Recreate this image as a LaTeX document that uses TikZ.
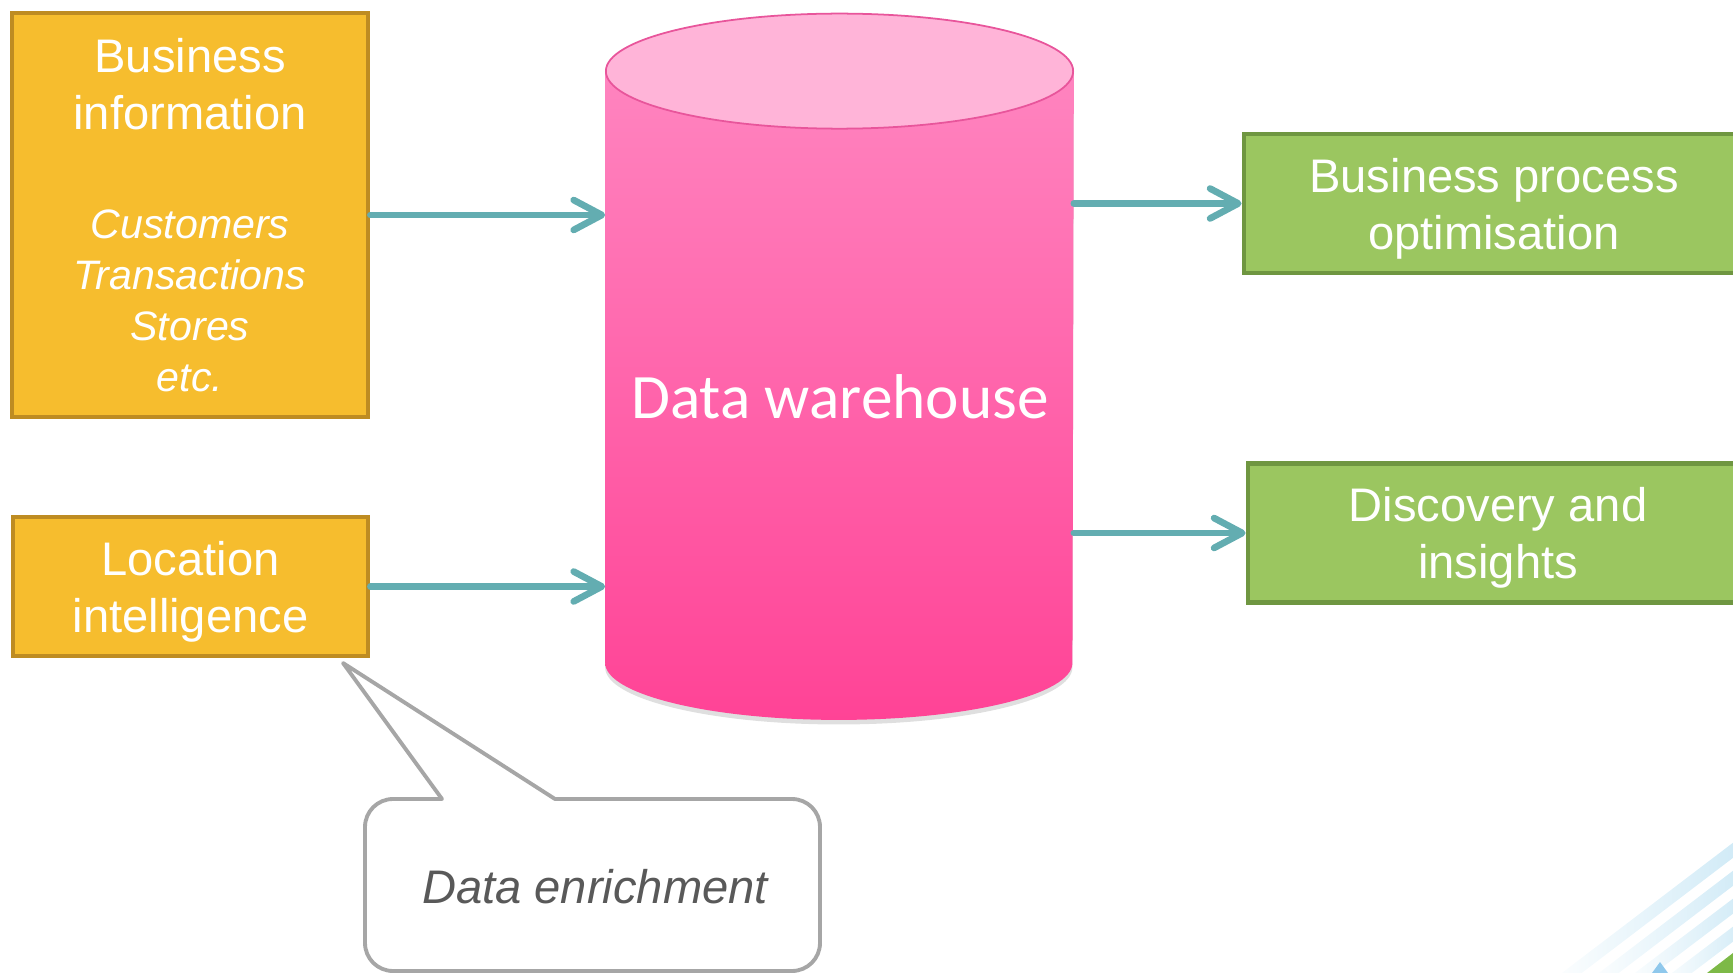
\documentclass[tikz,border=0pt]{standalone}
\usepackage{fontspec}
\setmainfont{Liberation Sans}
\newfontfamily\dwfont{Carlito}
\usetikzlibrary{arrows.meta,shadows,fadings,positioning}

\definecolor{srcfill}{HTML}{F6BD2E}
\definecolor{srcdraw}{HTML}{BE8C22}
\definecolor{outfill}{HTML}{9BC660}
\definecolor{outdraw}{HTML}{6F9641}
\definecolor{flowcol}{HTML}{63ADB1}
\definecolor{dwtop}{HTML}{FFB4D8}
\definecolor{dwupper}{HTML}{FF8AC3}
\definecolor{dwlower}{HTML}{FF4396}
\definecolor{dwedge}{HTML}{E8559B}
\definecolor{calloutdraw}{HTML}{A6A6A6}
\definecolor{callouttext}{HTML}{595959}
\definecolor{stripecol}{HTML}{C2E4F4}
\definecolor{cornergreen}{HTML}{7DB947}
\definecolor{cornerblue}{HTML}{8FC8EC}

\tikzfading[name=stripefade, left color=transparent!100, right color=transparent!15]

\tikzset{
  srcbox/.style={draw=srcdraw, fill=srcfill, line width=1.3pt, text=white,
    align=center, inner sep=0pt,
    font=\fontsize{13.4}{16.2}\selectfont},
  outbox/.style={draw=outdraw, fill=outfill, line width=1.3pt, text=white,
    align=center, inner sep=0pt, text depth=0pt,
    minimum width=5cm, minimum height=1.39cm,
    font=\fontsize{13.4}{16.2}\selectfont},
  flow/.style={draw=flowcol, line width=1.9pt, line cap=round,
    -{Straight Barb[length=8pt,width=8.5pt,line cap=round,line join=round]}},
  callout/.style={draw=calloutdraw, line width=1.1pt, fill=white, line join=round},
  stripe/.style={draw=stripecol, line width=0.12cm, path fading=stripefade},
}

\begin{document}
\begin{tikzpicture}[x=0.01cm,y=-0.01cm]
  \clip (0,0) rectangle (1733,973);

  % corner decoration
  \foreach \yr/\xb in {850/1572, 878/1609, 906/1645, 934/1682}
    \draw[stripe] ({\xb-20},988) -- (1753,{\yr-15});
  \fill[cornerblue] (1652,973) -- (1660,962) -- (1668,973) -- cycle;
  \fill[cornergreen] (1707,973) -- (1733,953) -- (1733,973) -- cycle;

  % sources
  \node[srcbox, minimum width=3.56cm, minimum height=4.04cm, text width=3.5cm,
    font=\fontsize{13.4}{14.5}\selectfont] (bizinfo) at (190,215)
    {Business\\[1.7pt]information\\[16.5pt]\itshape\fontsize{11.7}{14.5}\selectfont
     Customers\\Transactions\\Stores\\etc.};
  \node[srcbox, text depth=0pt, minimum width=3.55cm, minimum height=1.39cm] (locint)
    at (190.5,586.5) {Location\\intelligence};

  % data warehouse
  \node[minimum width=4.67cm, minimum height=5.9cm, inner sep=0pt] (dw) at (839.5,367) {};
  \path[drop shadow={shadow xshift=0pt, shadow yshift=-1.3pt, opacity=0.25},
    top color=dwupper, bottom color=dwlower]
    (dw.north west) -- (dw.south west)
    arc[start angle=180, end angle=360, x radius=2.335cm, y radius=0.57cm]
    -- (dw.north east)
    arc[start angle=0, end angle=180, x radius=2.335cm, y radius=0.575cm] -- cycle;
  \draw[dwedge, line width=0.5pt, fill=dwtop] (dw.north)
    ellipse[x radius=2.335cm, y radius=0.575cm];
  \node[text=white, font=\dwfont\fontsize{18}{21.6}\selectfont] (dwlabel) at (840,397)
    {Data warehouse};

  % outputs
  \node[outbox] (bpo) at (1494,203.5) {Business process\\optimisation};
  \node[outbox] (disc) at (1498,533) {Discovery and\\insights};

  % flows
  \draw[flow] (bizinfo.east) -- (bizinfo.east -| dw.west);
  \draw[flow] (locint.east) -- (locint.east -| dw.west);
  \draw[flow] (dw.east |- bpo.west) -- (bpo.west);
  \draw[flow] (dw.east |- disc.west) -- (disc.west);

  % callout
  \coordinate (tip) at (343,663);
  \draw[callout] (442,799) -- (tip) -- (555,799) [rounded corners=0.28cm]
    -- (820,799) -- (820,971) -- (365,971) -- (365,799) [sharp corners] -- cycle;
  \node[text=callouttext, font=\itshape\fontsize{13.4}{16}\selectfont] (enrich)
    at (595,887) {Data enrichment};

\end{tikzpicture}
\end{document}
